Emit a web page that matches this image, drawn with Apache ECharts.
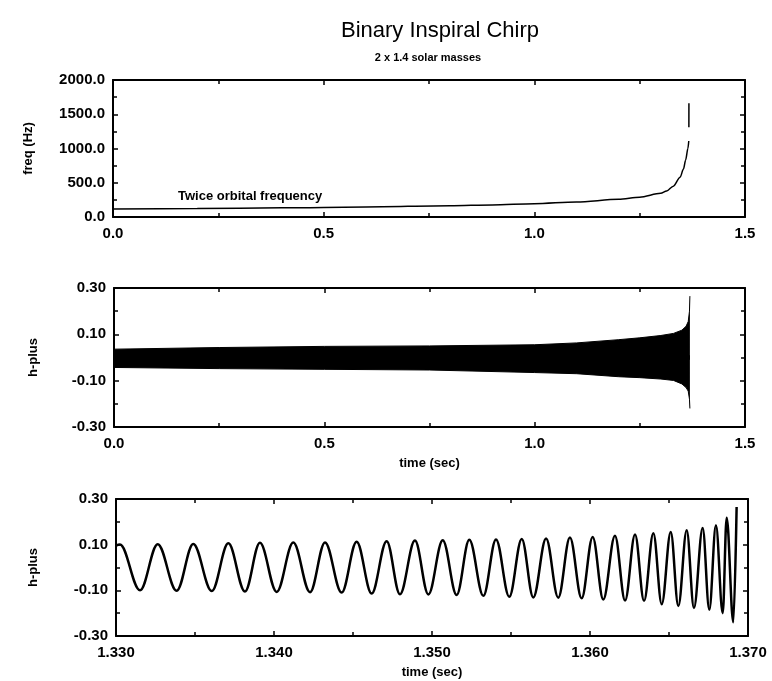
<!DOCTYPE html>
<html>
<head>
<meta charset="utf-8">
<title>Binary Inspiral Chirp</title>
<script src="https://cdn.jsdelivr.net/npm/echarts@6/dist/echarts.min.js"></script>
<style>
  html, body { margin: 0; padding: 0; background: #fff; }
  #chart { width: 772px; height: 681px; }
</style>
</head>
<body>
<div id="chart"></div>
<script>
/* Binary inspiral chirp, 2 x 1.4 solar masses */

// top panel: twice orbital frequency (Hz) vs time (sec), null = gap in the trace
var freqTime = [0, 0.2, 0.4, 0.6, 0.8, 0.9, 1.0, 1.1, 1.2, 1.25, 1.3, 1.314, 1.33, 1.346, 1.354, 1.359, 1.3645, 1.3665, 1.3667, 1.3668, 1.3669]
var freqHz = [115, 124, 134, 147, 164, 177, 195, 220, 258, 290, 345, 380, 450, 580, 700, 830, 1000, 1110, null, 1310, 1660]

// middle panel: envelope of h-plus over the whole inspiral
var envTime = [0, 0.25, 0.5, 0.75, 1.0, 1.1, 1.2, 1.25, 1.3, 1.33, 1.35, 1.36, 1.365, 1.368, 1.369]
var envUpper = [0.036, 0.043, 0.048, 0.050, 0.055, 0.063, 0.077, 0.085, 0.095, 0.104, 0.118, 0.135, 0.155, 0.200, 0.265]
var envLower = [-0.043, -0.048, -0.051, -0.054, -0.065, -0.070, -0.083, -0.087, -0.093, -0.099, -0.114, -0.130, -0.145, -0.180, -0.220]

// bottom panel: h-plus, last 40 ms (peaks and troughs)
var waveTime = [
  1.33000, 1.33025, 1.33152, 1.33264, 1.33384, 1.33489, 1.33606, 1.33711, 1.33816, 1.33911,
  1.34017, 1.34122, 1.34228, 1.34323, 1.34428, 1.34523, 1.34618, 1.34713, 1.34797, 1.34892,
  1.34977, 1.35068, 1.35156, 1.35236, 1.35325, 1.35405, 1.35489, 1.35568, 1.35641, 1.35722,
  1.35799, 1.35873, 1.35947, 1.36017, 1.36084, 1.36158, 1.36222, 1.36285, 1.36342, 1.36401,
  1.36454, 1.36511, 1.36559, 1.36612, 1.36658, 1.36713, 1.36755, 1.36797, 1.36840, 1.36865,
  1.36907, 1.36928
]
var waveValue = [
  0.096, 0.101, -0.100, 0.102, -0.102, 0.103, -0.103, 0.106, -0.105, 0.108,
  -0.107, 0.109, -0.108, 0.110, -0.110, 0.113, -0.114, 0.115, -0.117, 0.118,
  -0.118, 0.119, -0.120, 0.121, -0.124, 0.123, -0.128, 0.125, -0.131, 0.127,
  -0.132, 0.131, -0.135, 0.134, -0.140, 0.139, -0.145, 0.144, -0.146, 0.150,
  -0.161, 0.156, -0.169, 0.163, -0.177, 0.173, -0.185, 0.185, -0.200, 0.218,
  -0.240, 0.265
]

var FONT = '"Liberation Sans", Arial, Helvetica, sans-serif'

function pairs (xs, ys) {
  return xs.map(function (x, i) { return [x, ys[i]] })
}

var tickLine = {color: '#000', width: 1.5}

function xAxis (gridIndex, position, min, max, interval, digits, name) {
  var main = position === 'bottom'
  return {
    type: 'value',
    gridIndex: gridIndex,
    position: position,
    min: min,
    max: max,
    interval: interval,
    name: name || '',
    nameLocation: 'middle',
    nameGap: 30,
    nameTextStyle: {color: '#000', fontFamily: FONT, fontWeight: 'bold', fontSize: 13},
    axisLine: {show: true, onZero: false, lineStyle: {color: '#000', width: 2}},
    axisTick: {show: true, inside: true, length: 5, lineStyle: tickLine},
    minorTick: {show: true, splitNumber: 2, length: 4, lineStyle: tickLine},
    axisLabel: {
      show: main,
      margin: 9,
      color: '#000',
      fontFamily: FONT,
      fontWeight: 'bold',
      fontSize: 15,
      showMinLabel: true,
      showMaxLabel: true,
      formatter: function (v) { return v.toFixed(digits) }
    },
    splitLine: {show: false}
  }
}

function yAxis (gridIndex, position, min, max, interval, digits, name, gap) {
  var main = position === 'left'
  return {
    type: 'value',
    gridIndex: gridIndex,
    position: position,
    min: min,
    max: max,
    interval: interval,
    name: main ? name : '',
    nameLocation: 'middle',
    nameGap: gap,
    nameTextStyle: {color: '#000', fontFamily: FONT, fontWeight: 'bold', fontSize: 13},
    axisLine: {show: true, onZero: false, lineStyle: {color: '#000', width: 2}},
    axisTick: {show: true, inside: true, length: 5, lineStyle: tickLine},
    minorTick: {show: true, splitNumber: 2, length: 4, lineStyle: tickLine},
    axisLabel: {
      show: main,
      margin: 8,
      color: '#000',
      fontFamily: FONT,
      fontWeight: 'bold',
      fontSize: 15,
      showMinLabel: true,
      showMaxLabel: true,
      formatter: function (v) { return v.toFixed(digits) }
    },
    splitLine: {show: false}
  }
}

var option = {
  backgroundColor: '#fff',
  animation: false,
  graphic: [
    {
      type: 'text', x: 440, y: 31,
      style: {text: 'Binary Inspiral Chirp', fill: '#000', font: '22px ' + FONT,
        textAlign: 'center', textVerticalAlign: 'middle', align: 'center', verticalAlign: 'middle'}
    },
    {
      type: 'text', x: 428, y: 58,
      style: {text: '2 x 1.4 solar masses', fill: '#000', font: 'bold 11px ' + FONT,
        textAlign: 'center', textVerticalAlign: 'middle', align: 'center', verticalAlign: 'middle'}
    },
    {
      type: 'text', x: 178, y: 196,
      style: {text: 'Twice orbital frequency', fill: '#000', font: 'bold 13px ' + FONT,
        textAlign: 'left', textVerticalAlign: 'middle', align: 'left', verticalAlign: 'middle'}
    }
  ],
  grid: [
    {left: 113, top: 80, width: 632, height: 137},
    {left: 114, top: 288, width: 631, height: 139},
    {left: 116, top: 499, width: 632, height: 137}
  ],
  xAxis: [
    xAxis(0, 'bottom', 0, 1.5, 0.5, 1),
    xAxis(0, 'top', 0, 1.5, 0.5, 1),
    xAxis(1, 'bottom', 0, 1.5, 0.5, 1, 'time (sec)'),
    xAxis(1, 'top', 0, 1.5, 0.5, 1),
    xAxis(2, 'bottom', 1.33, 1.37, 0.01, 3, 'time (sec)'),
    xAxis(2, 'top', 1.33, 1.37, 0.01, 3)
  ],
  yAxis: [
    yAxis(0, 'left', 0, 2000, 500, 1, 'freq (Hz)', 78),
    yAxis(0, 'right', 0, 2000, 500, 1),
    yAxis(1, 'left', -0.3, 0.3, 0.2, 2, 'h-plus', 74),
    yAxis(1, 'right', -0.3, 0.3, 0.2, 2),
    yAxis(2, 'left', -0.3, 0.3, 0.2, 2, 'h-plus', 76),
    yAxis(2, 'right', -0.3, 0.3, 0.2, 2)
  ],
  series: [
    {
      name: 'freq',
      type: 'line',
      xAxisIndex: 0,
      yAxisIndex: 0,
      showSymbol: false,
      connectNulls: false,
      smooth: 0.3,
      smoothMonotone: 'x',
      lineStyle: {color: '#000', width: 1.5},
      data: pairs(freqTime, freqHz)
    },
    {
      // the two halves of the band overlap a little around zero so no seam shows
      name: 'h-plus upper',
      type: 'line',
      xAxisIndex: 2,
      yAxisIndex: 2,
      showSymbol: false,
      lineStyle: {color: '#000', width: 1},
      areaStyle: {color: '#000', opacity: 1, origin: -0.01},
      data: pairs(envTime, envUpper)
    },
    {
      name: 'h-plus lower',
      type: 'line',
      xAxisIndex: 2,
      yAxisIndex: 2,
      showSymbol: false,
      lineStyle: {color: '#000', width: 1},
      areaStyle: {color: '#000', opacity: 1, origin: 0.01},
      data: pairs(envTime, envLower)
    },
    {
      name: 'h-plus zoom',
      type: 'line',
      xAxisIndex: 4,
      yAxisIndex: 4,
      showSymbol: false,
      smooth: 0.36,
      smoothMonotone: 'x',
      lineStyle: {color: '#000', width: 2.5},
      data: pairs(waveTime, waveValue)
    }
  ]
}

var mychart = echarts.init(document.getElementById('chart'))
mychart.setOption(option, true)
</script>
</body>
</html>
